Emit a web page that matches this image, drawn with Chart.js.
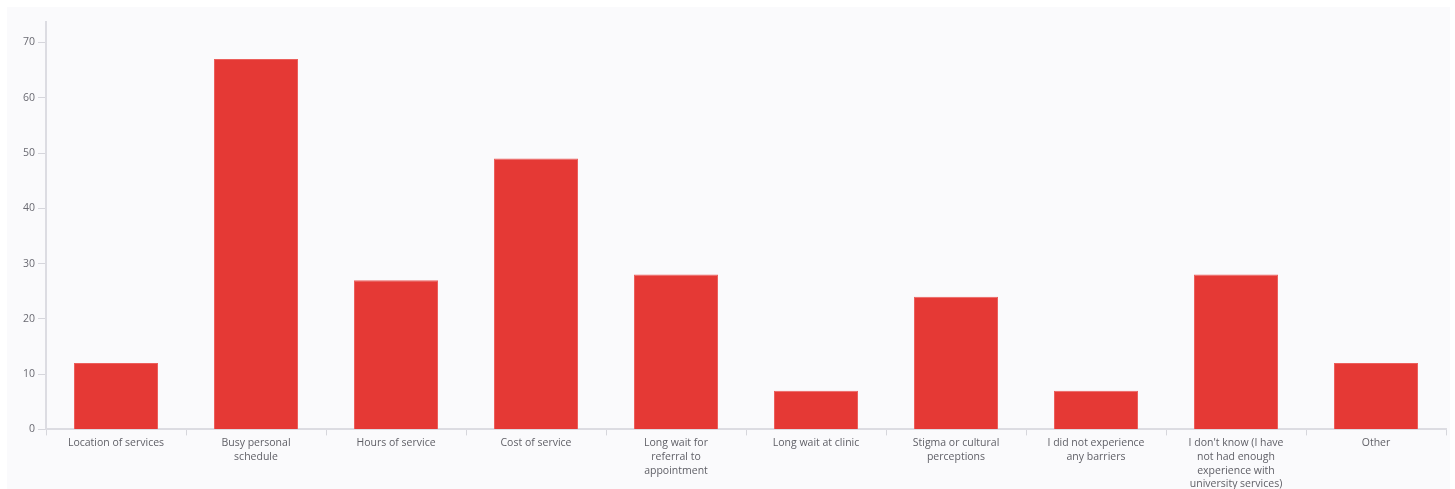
<!DOCTYPE html>
<html>
<head>
<meta charset="utf-8">
<script src="https://cdn.jsdelivr.net/npm/chart.js@4"></script>
<style>
  html, body { margin: 0; background: #ffffff; overflow: hidden; }
  #panel {
    position: absolute; left: 7px; top: 7px;
    width: 1443px; height: 485px;
    background: #fafafc;
  }
</style>
</head>
<body>
<div id="panel"><canvas id="chart"></canvas></div>
<script>
// Categories (wrapped the same way as the reference)
const categories = [
  ["Location of services"],
  ["Busy personal", "schedule"],
  ["Hours of service"],
  ["Cost of service"],
  ["Long wait for", "referral to", "appointment"],
  ["Long wait at clinic"],
  ["Stigma or cultural", "perceptions"],
  ["I did not experience", "any barriers"],
  ["I don't know (I have", "not had enough", "experience with", "university services)"],
  ["Other"]
];
const counts = [12, 67, 27, 49, 28, 7, 24, 7, 28, 12];
const yTicks = [0, 10, 20, 30, 40, 50, 60, 70];

const ctx = document.getElementById("chart").getContext("2d");
ctx.canvas.width = 1443;
ctx.canvas.height = 485;

new Chart(ctx, {
  type: "bar",
  data: {
    labels: categories,
    datasets: [
      {
        data: counts,
        backgroundColor: "#e53935",
        borderColor: "#ec5f5c",
        borderWidth: { top: 1, left: 1, right: 1, bottom: 0 },
        categoryPercentage: 0.6,
        barPercentage: 1.0,
      },
    ],
  },
  options: {
    responsive: false,
    animation: false,
    layout: { padding: { top: 15, right: 4, left: 13, bottom: 0 } },
    plugins: {
      legend: { display: false },
      tooltip: { enabled: false },
    },
    scales: {
      x: {
        grid: {
          drawOnChartArea: false,
          drawTicks: true,
          tickLength: 6,
          color: "#d6d6dc",
        },
        border: { color: "#dcdce2", width: 2 },
        ticks: {
          color: "#5f5f66",
          font: { family: "Open Sans", size: 10.5, lineHeight: 1.3 },
          maxRotation: 0,
          autoSkip: false,
          padding: 1,
        },
      },
      y: {
        min: 0,
        max: 73.7,
        afterBuildTicks: (axis) => {
          axis.ticks = yTicks.map((v) => ({ value: v }));
        },
        grid: {
          drawOnChartArea: false,
          tickLength: 8,
          color: "#d6d6dc",
        },
        border: { color: "#dcdce2", width: 2 },
        ticks: {
          color: "#6a6a72",
          font: { family: "Open Sans", size: 10.5 },
          padding: 3,
        },
      },
    },
  },
});
</script>
</body>
</html>
